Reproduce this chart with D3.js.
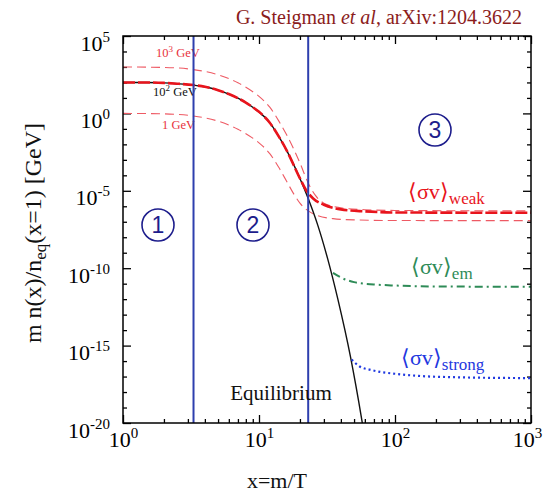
<!DOCTYPE html>
<html>
<head>
<meta charset="utf-8">
<script src="https://cdnjs.cloudflare.com/ajax/libs/d3/7.8.5/d3.min.js"></script>
<style>
  body { margin: 0; background: #fff; }
  svg { display: block; }
  text { font-family: "Liberation Serif", "Times New Roman", serif; }
</style>
</head>
<body>
<div id="chart"></div>
<script>
// values are log10 of m n(x)/n_eq(x=1) in GeV
var eqX = [1, 1.5, 2, 2.5, 3.3, 4, 5, 6, 7, 8, 9, 10, 12, 14, 16, 20, 23, 27, 32, 38, 47, 57, 60];
var eqY = [2.0, 2.0, 1.97, 1.92, 1.83, 1.72, 1.5, 1.25, 0.98, 0.7, 0.4, 0.1, -0.6, -1.5, -2.4, -4.2, -5.5, -7.2, -9.4, -12.0, -15.7, -19.8, -21];

var weakX = [1, 1.5, 2, 2.5, 3.3, 4, 5, 6, 7, 8, 9, 10, 12, 14, 16, 20, 22, 25, 30, 40, 60, 100, 1000];
var weakY = [2.0, 2.0, 1.97, 1.92, 1.83, 1.72, 1.5, 1.25, 0.98, 0.7, 0.4, 0.1, -0.6, -1.5, -2.4, -4.2, -4.9, -5.5, -5.9, -6.2, -6.33, -6.4, -6.42];

var heavyX = [1, 2, 3.3, 5, 7, 9, 10, 12, 14, 16, 20, 23, 26, 30, 40, 60, 100, 1000];
var heavyY = [3.0, 2.97, 2.83, 2.5, 1.98, 1.4, 1.1, 0.4, -0.5, -1.4, -3.2, -4.5, -5.3, -5.8, -6.1, -6.22, -6.27, -6.3];

var lightX = [1, 2, 3.3, 5, 7, 9, 10, 12, 14, 16, 18, 20, 23, 27, 35, 50, 100, 1000];
var lightY = [0.0, -0.03, -0.17, -0.5, -1.02, -1.6, -1.9, -2.6, -3.5, -4.4, -5.2, -5.8, -6.3, -6.6, -6.8, -6.88, -6.92, -6.93];

var emX = [35, 40, 50, 70, 100, 200, 1000];
var emY = [-10.3, -10.6, -10.9, -11.05, -11.12, -11.18, -11.2];

var strongX = [48, 55, 65, 78, 100, 150, 300, 1000];
var strongY = [-15.9, -16.35, -16.55, -16.7, -16.82, -16.96, -17.05, -17.1];

var regionX = [3.3, 23];
var xTicks = [1, 10, 100, 1000];
var yTicks = [-20, -15, -10, -5, 0, 5];

function init() {
    var w = 544;
    var h = 495;
    var left = 123, right = 531, top = 36, bottom = 423;

    var xScale = d3.scaleLog()
        .domain([1, 1000])
        .range([left, right]);

    var yScale = d3.scaleLog()
        .domain([1e-20, 1e5])
        .range([bottom, top]);

    var svg = d3.select("#chart")
        .append("svg")
        .attr("width", w)
        .attr("height", h);

    svg.append("defs").append("clipPath")
        .attr("id", "plot")
        .append("rect")
        .attr("x", left)
        .attr("y", top)
        .attr("width", right - left)
        .attr("height", bottom - top);

    // minor ticks
    var xMinor = [];
    [1, 10, 100].forEach(function (d) {
        for (var k = 2; k <= 9; k++) xMinor.push(d * k);
    });
    var yMinor = [];
    for (var e = -19; e < 5; e++) {
        if (e % 5 !== 0) yMinor.push(Math.pow(10, e));
    }
    var yMajor = yTicks.map(function (e) { return Math.pow(10, e); });

    function sup(sel) {
        sel.selectAll(".tick text").each(function (d) {
            var t = d3.select(this).text(null);
            t.append("tspan").text("10");
            t.append("tspan").attr("dy", -9).attr("font-size", 15)
                .text(Math.round(Math.log10(d)));
        });
    }

    var gx = svg.append("g")
        .attr("transform", "translate(0," + bottom + ")")
        .call(d3.axisBottom(xScale).tickValues(xTicks).tickSize(-8).tickPadding(8));
    sup(gx);
    gx.selectAll(".tick text").attr("font-size", 22);
    // last label would run off the page edge
    gx.selectAll(".tick text").filter(function (d) { return d === 1000; }).attr("x", -4);

    svg.append("g")
        .attr("transform", "translate(0," + bottom + ")")
        .call(d3.axisBottom(xScale).tickValues(xMinor).tickSize(-4).tickFormat(""));
    svg.append("g")
        .attr("transform", "translate(0," + top + ")")
        .call(d3.axisTop(xScale).tickValues(xTicks).tickSize(-8).tickFormat(""));
    svg.append("g")
        .attr("transform", "translate(0," + top + ")")
        .call(d3.axisTop(xScale).tickValues(xMinor).tickSize(-4).tickFormat(""));

    var gy = svg.append("g")
        .attr("transform", "translate(" + left + ",0)")
        .call(d3.axisLeft(yScale).tickValues(yMajor).tickSize(-8).tickPadding(13));
    sup(gy);
    gy.selectAll(".tick text").attr("font-size", 22).attr("dy", 14);

    svg.append("g")
        .attr("transform", "translate(" + left + ",0)")
        .call(d3.axisLeft(yScale).tickValues(yMinor).tickSize(-4).tickFormat(""));
    svg.append("g")
        .attr("transform", "translate(" + right + ",0)")
        .call(d3.axisRight(yScale).tickValues(yMajor).tickSize(-8).tickFormat(""));
    svg.append("g")
        .attr("transform", "translate(" + right + ",0)")
        .call(d3.axisRight(yScale).tickValues(yMinor).tickSize(-4).tickFormat(""));

    svg.selectAll(".domain").remove();
    svg.selectAll(".tick line").attr("stroke", "#000").attr("stroke-width", 1.3);
    svg.selectAll(".tick text").attr("fill", "#000");

    // mass labels
    var massLabels = [
        { base: "10", exp: "3", unit: " GeV", x: 156, y: 57, color: "#e8323c" },
        { base: "10", exp: "2", unit: " GeV", x: 153, y: 96, color: "#111" },
        { base: "1 GeV", exp: "", unit: "", x: 162, y: 129, color: "#e8323c" }
    ];
    massLabels.forEach(function (m) {
        var t = svg.append("text").attr("x", m.x).attr("y", m.y)
            .attr("font-size", 12.5).attr("fill", m.color);
        t.append("tspan").text(m.base);
        if (m.exp) {
            t.append("tspan").attr("dy", -5).attr("font-size", 9).text(m.exp);
            t.append("tspan").attr("dy", 5).text(m.unit);
        }
    });

    var line = d3.line()
        .x(function (d) { return xScale(d[0]); })
        .y(function (d) { return yScale(Math.pow(10, d[1])); })
        .curve(d3.curveMonotoneX);

    var plot = svg.append("g").attr("clip-path", "url(#plot)");

    function pairs(xs, ys) { return xs.map(function (v, i) { return [v, ys[i]]; }); }

    plot.append("path").datum(pairs(heavyX, heavyY))
        .attr("d", line).attr("fill", "none")
        .attr("stroke", "#ee5a64").attr("stroke-width", 1.1).attr("stroke-dasharray", "9,5");
    plot.append("path").datum(pairs(lightX, lightY))
        .attr("d", line).attr("fill", "none")
        .attr("stroke", "#ee5a64").attr("stroke-width", 1.1).attr("stroke-dasharray", "9,5");
    plot.append("path").datum(pairs(eqX, eqY))
        .attr("d", line).attr("fill", "none")
        .attr("stroke", "#111").attr("stroke-width", 1.4);
    plot.append("path").datum(pairs(weakX, weakY))
        .attr("d", line).attr("fill", "none")
        .attr("stroke", "#e8141c").attr("stroke-width", 2.6).attr("stroke-dasharray", "12,3");
    plot.append("path").datum(pairs(emX, emY))
        .attr("d", line).attr("fill", "none")
        .attr("stroke", "#2e8b57").attr("stroke-width", 2).attr("stroke-dasharray", "8,4,2,4");
    plot.append("path").datum(pairs(strongX, strongY))
        .attr("d", line).attr("fill", "none")
        .attr("stroke", "#1f38e0").attr("stroke-width", 2.2).attr("stroke-dasharray", "2,3");

    // region borders
    svg.selectAll(".region")
        .data(regionX)
        .enter()
        .append("line")
        .attr("class", "region")
        .attr("x1", function (d) { return xScale(d); })
        .attr("x2", function (d) { return xScale(d); })
        .attr("y1", top)
        .attr("y2", bottom)
        .attr("stroke", "#2e3fae")
        .attr("stroke-width", 2);

    // frame
    svg.append("rect")
        .attr("x", left).attr("y", top)
        .attr("width", right - left).attr("height", bottom - top)
        .attr("fill", "none").attr("stroke", "#000").attr("stroke-width", 1.5);

    // region numbers
    var circles = [
        { n: "1", x: 158, y: 225 },
        { n: "2", x: 253, y: 225 },
        { n: "3", x: 435, y: 130 }
    ];
    circles.forEach(function (c) {
        svg.append("circle").attr("cx", c.x).attr("cy", c.y).attr("r", 16)
            .attr("fill", "none").attr("stroke", "#1d1d8c").attr("stroke-width", 1.6);
        svg.append("text").attr("x", c.x).attr("y", c.y + 8)
            .attr("text-anchor", "middle").attr("font-size", 23)
            .style("font-family", "'Liberation Sans', Arial, sans-serif")
            .attr("fill", "#1d1d8c").text(c.n);
    });

    // cross-section labels
    var sigmaLabels = [
        { sub: "weak", x: 408, y: 199, color: "#e8141c" },
        { sub: "em", x: 411, y: 274, color: "#2e8b57" },
        { sub: "strong", x: 401, y: 365, color: "#1f38e0" }
    ];
    sigmaLabels.forEach(function (s) {
        var t = svg.append("text").attr("x", s.x).attr("y", s.y)
            .attr("font-size", 22).attr("fill", s.color);
        t.append("tspan").text("\u27e8\u03c3v\u27e9");
        t.append("tspan").attr("dy", 5).attr("font-size", 17).text(s.sub);
    });

    svg.append("text").attr("x", 281).attr("y", 400)
        .attr("text-anchor", "middle").attr("font-size", 21).attr("fill", "#111")
        .text("Equilibrium");

    // axis titles
    svg.append("text").attr("x", 277).attr("y", 488)
        .attr("text-anchor", "middle").attr("font-size", 22).attr("fill", "#111")
        .text("x=m/T");

    var yl = svg.append("text")
        .attr("transform", "translate(41,233) rotate(-90)")
        .attr("text-anchor", "middle").attr("font-size", 24).attr("fill", "#111");
    yl.append("tspan").text("m n(x)/n");
    yl.append("tspan").attr("dy", 5).attr("font-size", 17).text("eq");
    yl.append("tspan").attr("dy", -5).text("(x=1) [GeV]");

    var title = svg.append("text").attr("x", 522).attr("y", 24)
        .attr("text-anchor", "end").attr("font-size", 20).attr("fill", "#8b1c1c");
    title.append("tspan").text("G. Steigman ");
    title.append("tspan").attr("font-style", "italic").text("et al");
    title.append("tspan").text(", arXiv:1204.3622");
}

window.onload = init;
</script>
</body>
</html>
